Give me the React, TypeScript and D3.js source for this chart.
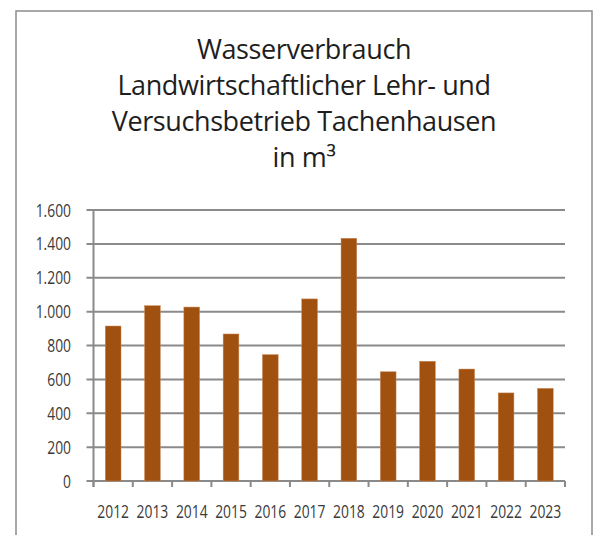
import React from "react";
import * as d3 from "d3";

const years = ["2012","2013","2014","2015","2016","2017","2018","2019","2020","2021","2022","2023"];
const consumption = [915, 1035, 1027, 868, 746, 1075, 1433, 645, 707, 661, 520, 547];
const yTicks = [0, 200, 400, 600, 800, 1000, 1200, 1400, 1600];
const titleLines = ["Wasserverbrauch", "Landwirtschaftlicher Lehr- und", "Versuchsbetrieb Tachenhausen", "in m³"];

const W = 595, H = 535;
const left = 93.5, right = 565, top = 210, bottom = 481;

export default function App() {
  const x = d3.scaleBand<string>().domain(years).range([left, right]).paddingInner(0.6).paddingOuter(0.3);
  const xb = d3.scaleBand<string>().domain(years).range([left, right]);
  const y = d3.scaleLinear().domain([0, 1600]).range([bottom, top]);
  const fmt = (v: number) => d3.format(",")(v).replace(/,/g, ".");
  const grid = "#8a8a8a";
  const labelFont = "'Open Sans', sans-serif";
  const sx = 0.77;
  return (
    <svg width={W} height={H} style={{ position: "absolute", left: 0, top: 0, background: "#fff" }}>
      <rect x={16} y={11} width={576} height={560} fill="#fff" stroke="#8c8c8c" strokeWidth={1.5} />
      {titleLines.map((t, i) => (
        <text key={i} x={304} y={59 + i * 36} textAnchor="middle" fontFamily={labelFont} fontSize={27} fill="#1e1e1e" letterSpacing={-0.4}>{t}</text>
      ))}
      {yTicks.map((v) => (
        <g key={v}>
          <line x1={left - 7} x2={right} y1={y(v)} y2={y(v)} stroke={grid} strokeWidth={2} />
          <text transform={`translate(71,${y(v) + 6.5}) scale(${sx},1)`} textAnchor="end" fontFamily={labelFont} fontSize={18} fill="#3a3a3a">{fmt(v)}</text>
        </g>
      ))}
      <line x1={left} x2={left} y1={top} y2={bottom + 6} stroke={grid} strokeWidth={2} />
      {years.map((yr) => (
        <line key={"t" + yr} x1={xb(yr)!} x2={xb(yr)!} y1={bottom} y2={bottom + 6} stroke={grid} strokeWidth={2} />
      ))}
      <line x1={right} x2={right} y1={bottom} y2={bottom + 6} stroke={grid} strokeWidth={2} />
      {years.map((yr, i) => (
        <rect key={yr} x={x(yr)!} y={y(consumption[i])} width={x.bandwidth()} height={bottom - y(consumption[i])} fill="#a0500f" stroke="#c98a5a" strokeWidth={0.5} />
      ))}
      {years.map((yr) => (
        <text key={"l" + yr} transform={`translate(${xb(yr)! + xb.bandwidth() / 2},518) scale(${sx},1)`} textAnchor="middle" fontFamily={labelFont} fontSize={18} fill="#3a3a3a">{yr}</text>
      ))}
    </svg>
  );
}
